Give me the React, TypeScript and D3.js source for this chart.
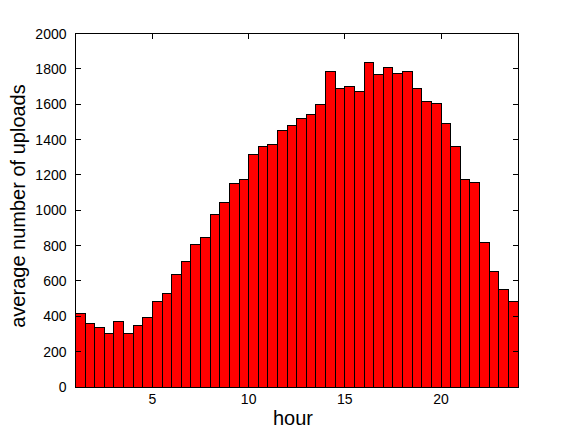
import { useRef, useEffect } from "react";
import * as d3 from "d3";

// average uploads per half-hour bin, hours 1..24
const binStarts = d3.range(46).map((i) => 1 + i * 0.5);
const uploads = [
  416, 360, 337, 303, 371, 303, 349, 394, 486, 529,
  637, 710, 808, 846, 976, 1043, 1151, 1173, 1315, 1360,
  1371, 1450, 1478, 1518, 1541, 1597, 1784, 1688, 1699, 1672,
  1834, 1767, 1806, 1772, 1784, 1688, 1616, 1603, 1490, 1360,
  1173, 1157, 818, 655, 554, 486,
];
const xTicks = [5, 10, 15, 20];
const yTicks = [0, 200, 400, 600, 800, 1000, 1200, 1400, 1600, 1800, 2000];

const width = 572;
const height = 435;
const margin = { top: 33.5, right: 54, bottom: 48, left: 75.5 };
const font = "'Liberation Sans', Arial, Helvetica, sans-serif";

const App = () => {
  const svgRef = useRef<SVGSVGElement>(null);

  useEffect(() => {
    const svg = d3.select(svgRef.current);
    svg.selectAll("*").remove();

    const chartWidth = width - margin.left - margin.right;
    const chartHeight = height - margin.top - margin.bottom;

    const x = d3.scaleLinear().domain([1, 24]).range([0, chartWidth]);
    const y = d3.scaleLinear().domain([0, 2000]).range([chartHeight, 0]);

    svg.append("rect").attr("width", width).attr("height", height).attr("fill", "#fff");

    const g = svg.append("g").attr("transform", `translate(${margin.left},${margin.top})`);

    // Bars
    g.selectAll(".bar")
      .data(uploads)
      .enter()
      .append("rect")
      .attr("class", "bar")
      .attr("x", (_, i) => x(binStarts[i]))
      .attr("width", (_, i) => x(binStarts[i] + 0.5) - x(binStarts[i]))
      .attr("y", (d) => y(d))
      .attr("height", (d) => chartHeight - y(d))
      .attr("fill", "#ff0000")
      .attr("stroke", "#000")
      .attr("stroke-width", 1)
      .attr("shape-rendering", "crispEdges");

    // Box
    g.append("rect")
      .attr("width", chartWidth)
      .attr("height", chartHeight)
      .attr("fill", "none")
      .attr("stroke", "#000")
      .attr("stroke-width", 1)
      .attr("shape-rendering", "crispEdges");

    const tickLen = 5;

    // X ticks (inside, bottom and top)
    xTicks.forEach((t) => {
      g.append("line")
        .attr("x1", x(t)).attr("x2", x(t))
        .attr("y1", chartHeight).attr("y2", chartHeight - tickLen)
        .attr("stroke", "#000")
        .attr("shape-rendering", "crispEdges");
      g.append("line")
        .attr("x1", x(t)).attr("x2", x(t))
        .attr("y1", 0).attr("y2", tickLen)
        .attr("stroke", "#000")
        .attr("shape-rendering", "crispEdges");
    });

    g.selectAll(".xlabel")
      .data(xTicks)
      .enter()
      .append("text")
      .attr("x", (d) => x(d))
      .attr("y", chartHeight + 17)
      .attr("text-anchor", "middle")
      .style("font-family", font)
      .style("font-size", "14px")
      .text((d) => d);

    // Y ticks (inside, left and right)
    yTicks.forEach((t) => {
      g.append("line")
        .attr("x1", 0).attr("x2", tickLen)
        .attr("y1", y(t)).attr("y2", y(t))
        .attr("stroke", "#000")
        .attr("shape-rendering", "crispEdges");
      g.append("line")
        .attr("x1", chartWidth).attr("x2", chartWidth - tickLen)
        .attr("y1", y(t)).attr("y2", y(t))
        .attr("stroke", "#000")
        .attr("shape-rendering", "crispEdges");
    });

    g.selectAll(".ylabel")
      .data(yTicks)
      .enter()
      .append("text")
      .attr("x", -9)
      .attr("y", (d) => y(d))
      .attr("dy", "0.36em")
      .attr("text-anchor", "end")
      .style("font-family", font)
      .style("font-size", "14px")
      .text((d) => d);

    // Axis titles
    svg.append("text")
      .attr("x", 293)
      .attr("y", 425)
      .attr("text-anchor", "middle")
      .style("font-family", font)
      .style("font-size", "20px")
      .text("hour");

    svg.append("text")
      .attr("transform", `translate(25,206) rotate(-90)`)
      .attr("text-anchor", "middle")
      .style("font-family", font)
      .style("font-size", "20px")
      .text("average number of uploads");
  }, []);

  return (
    <svg
      ref={svgRef}
      width={width}
      height={height}
      style={{ position: "absolute", left: 0, top: 0 }}
    />
  );
};

export default App;
